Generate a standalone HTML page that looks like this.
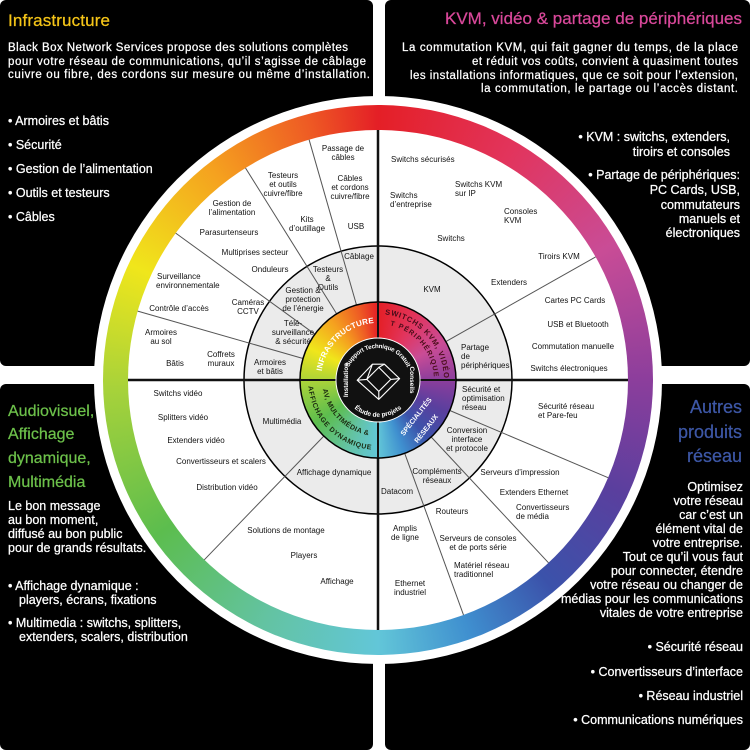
<!DOCTYPE html>
<html><head><meta charset="utf-8"><style>
html,body{margin:0;padding:0;background:#fff;}
#wrap{position:relative;width:750px;height:750px;overflow:hidden;font-family:"Liberation Sans",sans-serif;}
.l{position:absolute;left:0;top:0;}
.ring{position:absolute;border-radius:50%;background:conic-gradient(from 0deg,#e41f26 0deg,#e2345c 30deg,#c94c96 60deg,#8c3e9c 90deg,#5a3f9e 115deg,#3b52aa 140deg,#3f8fcf 160deg,#62c6d8 180deg,#63c3a2 205deg,#5cbd4e 235deg,#a7d23a 268deg,#f0e61b 295deg,#f5a11f 322deg,#ee5a24 345deg,#e41f26 360deg);}
</style></head><body><div id="wrap">
<svg class="l" width="750" height="750" viewBox="0 0 750 750">
<rect width="750" height="750" fill="#fff"/>
<rect x="0" y="0" width="373" height="366" rx="6" fill="#000"/>
<rect x="385" y="0" width="365" height="366" rx="6" fill="#000"/>
<rect x="0" y="384" width="373" height="366" rx="6" fill="#000"/>
<rect x="385" y="384" width="365" height="366" rx="6" fill="#000"/>
<circle cx="378" cy="380" r="284" fill="#fff"/>
<g font-family="Liberation Sans, sans-serif" fill="#fff" stroke="#fff" stroke-width="0.25">
<text x="8" y="26" font-size="17" fill="#f5c518" stroke="#f5c518" textLength="102">Infrastructure</text>
<text x="8" y="51" font-size="11.5" textLength="340">Black Box Network Services propose des solutions complètes</text>
<text x="8" y="65" font-size="11.5" textLength="358">pour votre réseau de communications, qu’il s’agisse de câblage</text>
<text x="8" y="78" font-size="11.5" textLength="362">cuivre ou fibre, des cordons sur mesure ou même d’installation.</text>
<g font-size="12.5"><text x="8" y="125">• Armoires et bâtis</text><text x="8" y="149">• Sécurité</text><text x="8" y="173">• Gestion de l’alimentation</text><text x="8" y="197">• Outils et testeurs</text><text x="8" y="221">• Câbles</text></g>

<text x="445" y="24" font-size="17" fill="#d9489a" stroke="#d9489a" textLength="297">KVM, vidéo &amp; partage de périphériques</text>
<text x="402" y="51" font-size="11.5" textLength="336">La commutation KVM, qui fait gagner du temps, de la place</text>
<text x="472" y="65" font-size="11.5" textLength="266">et réduit vos coûts, convient à quasiment toutes</text>
<text x="410" y="79" font-size="11.5" textLength="328">les installations informatiques, que ce soit pour l’extension,</text>
<text x="481" y="92" font-size="11.5" textLength="257">la commutation, le partage ou l’accès distant.</text>
<g font-size="12.5" text-anchor="end"><text x="730" y="141">• KVM : switchs, extenders,</text><text x="730" y="156">tiroirs et consoles</text><text x="740" y="179">• Partage de périphériques:</text><text x="740" y="194">PC Cards, USB,</text><text x="740" y="209">commutateurs</text><text x="740" y="223">manuels et</text><text x="740" y="237">électroniques</text></g>

<g font-size="16" fill="#6cc04a" stroke="#6cc04a"><text x="8" y="416">Audiovisuel,</text><text x="8" y="439">Affichage</text><text x="8" y="463">dynamique,</text><text x="8" y="487">Multimédia</text></g>
<g font-size="12.5"><text x="8" y="510">Le bon message</text><text x="8" y="524">au bon moment,</text><text x="8" y="538">diffusé au bon public</text><text x="8" y="552">pour de grands résultats.</text>
<text x="8" y="590">• Affichage dynamique :</text><text x="19" y="604">players, écrans, fixations</text><text x="8" y="627">• Multimedia : switchs, splitters,</text><text x="19" y="641">extenders, scalers, distribution</text></g>

<g font-size="18" fill="#3d57a6" stroke="#3d57a6" text-anchor="end"><text x="742" y="413">Autres</text><text x="742" y="438">produits</text><text x="742" y="462">réseau</text></g>
<g font-size="12.5" text-anchor="end"><text x="743" y="491">Optimisez</text><text x="743" y="505">votre réseau</text><text x="743" y="519">car c’est un</text><text x="743" y="533">élément vital de</text><text x="743" y="547">votre entreprise.</text><text x="743" y="561">Tout ce qu’il vous faut</text><text x="743" y="575">pour connecter, étendre</text><text x="743" y="589">votre réseau ou changer de</text><text x="743" y="603">médias pour les communications</text><text x="743" y="617">vitales de votre entreprise</text>
<text x="743" y="651">• Sécurité réseau</text><text x="743" y="676">• Convertisseurs d’interface</text><text x="743" y="700">• Réseau industriel</text><text x="743" y="724">• Communications numériques</text></g>
</g>
</svg>
<div class="ring" style="left:103px;top:105px;width:550px;height:550px;"></div>
<svg class="l" width="750" height="750" viewBox="0 0 750 750">
<circle cx="378" cy="380" r="250" fill="#fff"/>
<circle cx="378" cy="380" r="134" fill="#ebebeb" stroke="#000" stroke-width="1.5"/>
<g stroke="#555" stroke-width="1">
<line x1="356.5" y1="305" x2="309.1" y2="139.7"/>
<line x1="336.7" y1="313.9" x2="245.5" y2="168"/>
<line x1="314.9" y1="334.2" x2="175.7" y2="233.1"/>
<line x1="303" y1="358.5" x2="137.7" y2="311.1"/>
<line x1="445.9" y1="341.6" x2="595.6" y2="256.9"/>
<line x1="449.8" y1="410.5" x2="608.1" y2="477.7"/>
<line x1="431.2" y1="437" x2="548.5" y2="562.8"/>
<line x1="404.7" y1="453.3" x2="463.5" y2="614.9"/>
<line x1="323.8" y1="436.1" x2="204.3" y2="559.8"/>
</g>
<line x1="378" y1="130" x2="378" y2="630" stroke="#111" stroke-width="2.5"/>
<line x1="128" y1="380" x2="628" y2="380" stroke="#111" stroke-width="2.5"/>
<g font-family="Liberation Sans, sans-serif" font-size="8" fill="#111" text-anchor="middle">
<text x="343" y="151">Passage de</text><text x="343" y="160">câbles</text>
<text x="350" y="181">Câbles</text><text x="350" y="190">et cordons</text><text x="350" y="199">cuivre/fibre</text>
<text x="356" y="229">USB</text>
<text x="283" y="178">Testeurs</text><text x="283" y="187">et outils</text><text x="283" y="196">cuivre/fibre</text>
<text x="307" y="222">Kits</text><text x="307" y="231">d’outillage</text>
<text x="232" y="206">Gestion de</text><text x="232" y="215">l’alimentation</text>
<text x="229" y="235">Parasurtenseurs</text>
<text x="255" y="255">Multiprises secteur</text>
<text x="270" y="272">Onduleurs</text>
<text x="359" y="259">Câblage</text>
<text x="328" y="272">Testeurs</text><text x="328" y="281">&amp;</text><text x="328" y="290">Outils</text>
<text x="303" y="293">Gestion &amp;</text><text x="303" y="302">protection</text><text x="303" y="311">de l’énergie</text>
<text x="157" y="279" text-anchor="start">Surveillance</text><text x="156" y="288" text-anchor="start">environnementale</text>
<text x="179" y="311">Contrôle d’accès</text>
<text x="248" y="305">Caméras</text><text x="248" y="314">CCTV</text>
<text x="293" y="326">Télé-</text><text x="293" y="335">surveillance</text><text x="293" y="344">&amp; sécurité</text>
<text x="161" y="335">Armoires</text><text x="161" y="344">au sol</text>
<text x="175" y="366">Bâtis</text>
<text x="221" y="357">Coffrets</text><text x="221" y="366">muraux</text>
<text x="270" y="365">Armoires</text><text x="270" y="374">et bâtis</text>

<text x="391" y="162" text-anchor="start">Switchs sécurisés</text>
<text x="455" y="187" text-anchor="start">Switchs KVM</text><text x="455" y="196" text-anchor="start">sur IP</text>
<text x="390" y="198" text-anchor="start">Switchs</text><text x="390" y="207" text-anchor="start">d’entreprise</text>
<text x="504" y="214" text-anchor="start">Consoles</text><text x="504" y="223" text-anchor="start">KVM</text>
<text x="451" y="241">Switchs</text>
<text x="559" y="259">Tiroirs KVM</text>
<text x="509" y="285">Extenders</text>
<text x="432" y="292">KVM</text>
<text x="575" y="303">Cartes PC Cards</text>
<text x="578" y="327">USB et Bluetooth</text>
<text x="573" y="349">Commutation manuelle</text>
<text x="569" y="371">Switchs électroniques</text>
<text x="461" y="350" text-anchor="start">Partage</text><text x="461" y="359" text-anchor="start">de</text><text x="461" y="368" text-anchor="start">périphériques</text>

<text x="462" y="392" text-anchor="start">Sécurité et</text><text x="462" y="401" text-anchor="start">optimisation</text><text x="462" y="410" text-anchor="start">réseau</text>
<text x="538" y="409" text-anchor="start">Sécurité réseau</text><text x="538" y="418" text-anchor="start">et Pare-feu</text>
<text x="467" y="433">Conversion</text><text x="467" y="442">interface</text><text x="467" y="451">et protocole</text>
<text x="437" y="474">Compléments</text><text x="437" y="483">réseaux</text>
<text x="397" y="494">Datacom</text>
<text x="520" y="475">Serveurs d’impression</text>
<text x="534" y="495">Extenders Ethernet</text>
<text x="516" y="510" text-anchor="start">Convertisseurs</text><text x="516" y="519" text-anchor="start">de média</text>
<text x="452" y="514">Routeurs</text>
<text x="405" y="531">Amplis</text><text x="405" y="540">de ligne</text>
<text x="478" y="541">Serveurs de consoles</text><text x="478" y="550">et de ports série</text>
<text x="454" y="568" text-anchor="start">Matériel réseau</text><text x="454" y="577" text-anchor="start">traditionnel</text>
<text x="410" y="586">Ethernet</text><text x="410" y="595">industriel</text>

<text x="178" y="396">Switchs vidéo</text>
<text x="183" y="420">Splitters vidéo</text>
<text x="196" y="443">Extenders vidéo</text>
<text x="221" y="464">Convertisseurs et scalers</text>
<text x="227" y="490">Distribution vidéo</text>
<text x="282" y="424">Multimédia</text>
<text x="334" y="475">Affichage dynamique</text>
<text x="286" y="533">Solutions de montage</text>
<text x="304" y="558">Players</text>
<text x="337" y="584">Affichage</text>
</g>
</svg>
<div class="ring" style="left:300px;top:302px;width:156px;height:156px;"></div>
<svg class="l" width="750" height="750" viewBox="0 0 750 750">
<defs>
<path id="pTL" d="M 321.9 370.1 A 57 57 0 0 1 373 323.2"/>
<path id="pTR1" d="M 383.8 314.3 A 66 66 0 0 1 444 380"/>
<path id="pTR2" d="M 387.7 324.9 A 56 56 0 0 1 434 380"/>
<path id="pBL1" d="M 322.2 384.9 A 56 56 0 0 0 373.1 435.8"/>
<path id="pBL2" d="M 308.3 386.1 A 70 70 0 0 0 371.9 449.7"/>
<path id="pTop" d="M 346.9 374.5 A 31.5 31.5 0 0 1 409.1 374.5"/>
<path id="pBot" d="M 346 398.5 A 37 37 0 0 0 410 398.5"/>
</defs>
<circle cx="378" cy="380" r="78" fill="none" stroke="#000" stroke-width="1.5"/>
<line x1="378" y1="302" x2="378" y2="458" stroke="#111" stroke-width="2"/>
<line x1="300" y1="380" x2="456" y2="380" stroke="#111" stroke-width="2"/>
<circle cx="378" cy="380" r="42" fill="#111" stroke="#fff" stroke-width="1"/>
<g font-family="Liberation Sans, sans-serif" font-weight="bold">
<text font-size="8" fill="#fff" letter-spacing="0.2"><textPath href="#pTL" startOffset="50%" text-anchor="middle">INFRASTRUCTURE</textPath></text>
<text font-size="7.5" fill="#4a0d1a" letter-spacing="0.8"><textPath href="#pTR1" startOffset="50%" text-anchor="middle">SWITCHS KVM, VIDÉO</textPath></text>
<text font-size="7" fill="#4a0d1a" letter-spacing="1"><textPath href="#pTR2" startOffset="50%" text-anchor="middle">ET PÉRIPHÉRIQUES</textPath></text>
<text font-size="7" fill="#1a2a10" letter-spacing="0.4"><textPath href="#pBL1" startOffset="50%" text-anchor="middle">AV, MULTIMÉDIA &amp;</textPath></text>
<text font-size="7" fill="#1a2a10" letter-spacing="0.6"><textPath href="#pBL2" startOffset="50%" text-anchor="middle">AFFICHAGE DYNAMIQUE</textPath></text>
<text font-size="7" fill="#fff" text-anchor="middle" transform="translate(418,418) rotate(-52)">SPÉCIALITÉS</text>
<text font-size="7" fill="#fff" text-anchor="middle" transform="translate(428,430) rotate(-52)">RÉSEAUX</text>
<text font-size="6.2" fill="#fff" letter-spacing="-0.2"><textPath href="#pTop" startOffset="50%" text-anchor="middle">Support Technique Gratuit</textPath></text>
<text font-size="6.5" fill="#fff"><textPath href="#pBot" startOffset="50%" text-anchor="middle">Étude de projets</textPath></text>
<text font-size="6.5" fill="#fff" text-anchor="middle" transform="translate(410,380) rotate(90)">Conseils</text>
<text font-size="6.5" fill="#fff" text-anchor="middle" transform="translate(348,380) rotate(-90)">Installation</text>
</g>
<g fill="none" stroke="#fff" stroke-width="1.4" stroke-linejoin="round" transform="translate(378,381) scale(0.8) translate(-378,-381)">
<polygon points="352,380 371,360 386,360 405,378 379,404"/>
<polygon points="364,379 379,364 394,379 379,394"/>
<line x1="371" y1="360" x2="364" y2="379"/>
<line x1="386" y1="360" x2="379" y2="364"/>
<line x1="405" y1="378" x2="394" y2="379"/>
<line x1="379" y1="404" x2="379" y2="394"/>
<line x1="352" y1="380" x2="364" y2="379"/>
</g>
</svg>
</div></body></html>
